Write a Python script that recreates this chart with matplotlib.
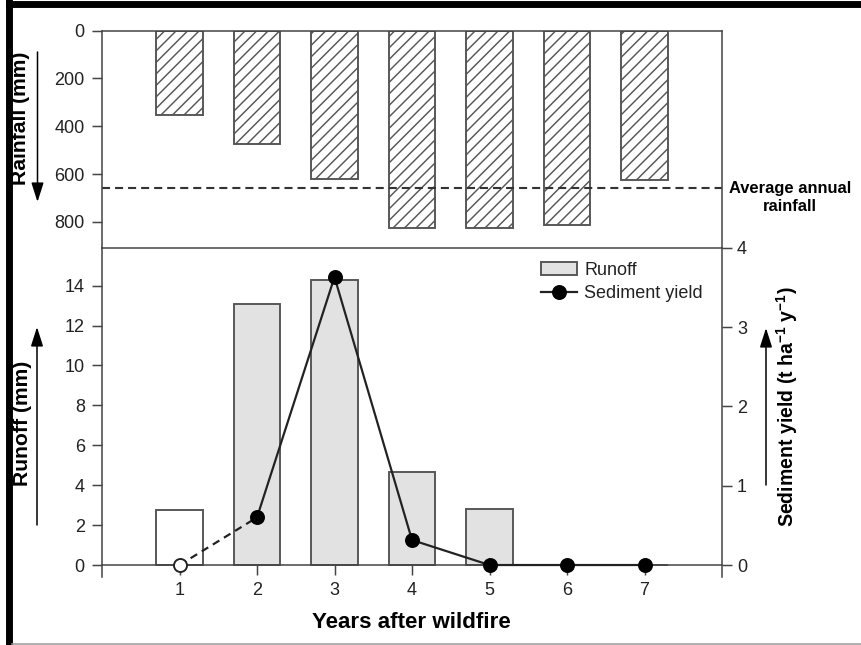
import matplotlib
matplotlib.use("Agg")
import matplotlib.pyplot as plt
from matplotlib.patches import Rectangle, FancyArrowPatch
from matplotlib.lines import Line2D

# data
years = [1, 2, 3, 4, 5, 6, 7]
rainfall = [354, 472, 620, 824, 824, 814, 625]      # mm
avg_rainfall = 660                                     # mm
runoff = [2.76, 13.1, 14.3, 4.65, 2.8, 0, 0]           # mm
sediment = [0, 0.60, 3.63, 0.315, 0, 0, 0]             # t/ha/y

rain_ticks = [0, 200, 400, 600, 800]
runoff_ticks = [0, 2, 4, 6, 8, 10, 12, 14]
sed_ticks = [0, 1, 2, 3, 4]

# dpi chosen so that the hatch spacing matches the original
DPI = 138
W, H = 861, 645

plt.rcParams['font.family'] = ['Liberation Sans', 'DejaVu Sans']
plt.rcParams['hatch.linewidth'] = 0.75
plt.rcParams['lines.scale_dashes'] = False
plt.rcParams['mathtext.fontset'] = 'custom'
plt.rcParams['mathtext.rm'] = 'Liberation Sans:bold'
plt.rcParams['mathtext.default'] = 'rm'

axc = '#444444'
txtc = '#222222'
spine_lw = 0.8
tick_fs = 9.4
lab_fs = 11

fig = plt.figure(figsize=(W / DPI, H / DPI), dpi=DPI)

left = 102 / W
width = (722 - 102) / W
y_sep = 1 - 247.7 / H
y_top = 1 - 30.7 / H
y_bot = 1 - 577 / H

ax1 = fig.add_axes([left, y_sep, width, y_top - y_sep])
ax2 = fig.add_axes([left, y_bot, width, y_sep - y_bot])
ax3 = ax2.twinx()

# ---- top panel : rainfall (hanging bars) ----
ax1.bar(years, rainfall, width=0.6, color='white', edgecolor='#555555',
        linewidth=1.0, hatch='////')
ax1.axhline(avg_rainfall, color='#333333', lw=1.1, ls=(0, (4.2, 2.6)))
ax1.set_xlim(0, 8)
ax1.set_ylim(908, 0)
ax1.set_yticks(rain_ticks)
ax1.set_xticks([])
ax1.spines['bottom'].set_visible(False)
for s in ['left', 'top', 'right']:
    ax1.spines[s].set_color(axc)
    ax1.spines[s].set_linewidth(spine_lw)
ax1.tick_params(axis='y', direction='out', length=5.2, width=0.78, pad=3.8,
                labelsize=tick_fs, colors=axc, labelcolor=txtc)

# ---- bottom panel : runoff bars + sediment yield ----
bar_colors = ['white'] + ['#e2e2e2'] * (len(years) - 1)
bars = ax2.bar(years, runoff, width=0.6, color=bar_colors, edgecolor='#555555',
               linewidth=1.0)
run_lo, run_hi = -0.6, 15.9
sed_hi = 4.0
sed_lo = run_lo * sed_hi / run_hi
ax2.set_xlim(0, 8)
ax2.set_ylim(run_lo, run_hi)
ax2.set_yticks(runoff_ticks)
ax2.set_xticks(years)
ax2.spines['bottom'].set_position(('data', 0))
ax2.spines['right'].set_visible(False)
for s in ['left', 'top', 'bottom']:
    ax2.spines[s].set_color(axc)
    ax2.spines[s].set_linewidth(spine_lw)
ax2.tick_params(axis='both', direction='out', length=5.2, width=0.78, pad=3.8,
                labelsize=tick_fs, colors=axc, labelcolor=txtc)

ax3.plot(years[:2], sediment[:2], color='#222222', lw=1.15, ls=(0, (4.0, 2.8)))
sed_line, = ax3.plot(years[1:], sediment[1:], color='#222222', lw=1.15,
                     marker='o', ms=6.8, mfc='black', mec='black')
ax3.plot(years[:1], sediment[:1], ls='none', marker='o', ms=6.8, mfc='white',
         mec='#222222', mew=1.0, clip_on=False, zorder=5)
ax3.set_ylim(sed_lo, sed_hi)
ax3.set_yticks(sed_ticks)
for s in ['left', 'top', 'bottom']:
    ax3.spines[s].set_visible(False)
ax3.spines['right'].set_color(axc)
ax3.spines['right'].set_linewidth(spine_lw)
ax3.tick_params(axis='y', direction='out', length=5.2, width=0.78, pad=2.6,
                labelsize=tick_fs, colors=axc, labelcolor=txtc)

leg = ax3.legend([bars[1], sed_line], ['Runoff', 'Sediment yield'],
                 loc='upper left', bbox_to_anchor=(541 / W, 1 - 262 / H),
                 bbox_transform=fig.transFigure, frameon=False, fontsize=9.4,
                 borderpad=0, borderaxespad=0, handlelength=2.0,
                 handleheight=0.7, handletextpad=0.4, labelspacing=0.35,
                 numpoints=1)
for t in leg.get_texts():
    t.set_color(txtc)

# ---- labels and arrows ----
fig.text(21 / W, 1 - 118 / H, 'Rainfall (mm)', rotation=90, ha='center',
         va='center', fontsize=lab_fs, fontweight='bold')
fig.text(23 / W, 1 - 423 / H, 'Runoff (mm)', rotation=90, ha='center',
         va='center', fontsize=lab_fs, fontweight='bold')
fig.text(787 / W, 1 - 407 / H, r'Sediment yield (t ha$^{-1}$ y$^{-1}$)',
         rotation=90, ha='center', va='center', fontsize=10.2,
         fontweight='bold')
fig.text(411 / W, 1 - 622 / H, 'Years after wildfire', ha='center',
         va='center', fontsize=11.7, fontweight='bold')
fig.text(790 / W, 1 - 197.5 / H, 'Average annual\nrainfall', ha='center',
         va='center', fontsize=8.6, fontweight='bold', linespacing=1.22)

arrow = dict(arrowstyle='-|>,head_length=0.85,head_width=0.27',
             mutation_scale=10, lw=0.8, color='black', shrinkA=0, shrinkB=0)
for x, y0, y1 in [(37.5, 52, 202), (37, 525, 327), (766, 485, 328)]:
    fig.add_artist(FancyArrowPatch(
        (x / W, 1 - y0 / H), (x / W, 1 - y1 / H), transform=fig.transFigure,
        **arrow))

# ---- picture frame ----
fig.add_artist(Rectangle((7 / W, 1 - 7 / H), 1, 5 / H, color='black',
                         transform=fig.transFigure))
fig.add_artist(Rectangle((7 / W, 0), 5 / W, 1, color='black',
                         transform=fig.transFigure))
fig.add_artist(Line2D([12 / W, 1], [1.2 / H, 1.2 / H], color='#999999',
                      lw=0.8, transform=fig.transFigure))

fig.savefig('out.png', dpi=DPI)
